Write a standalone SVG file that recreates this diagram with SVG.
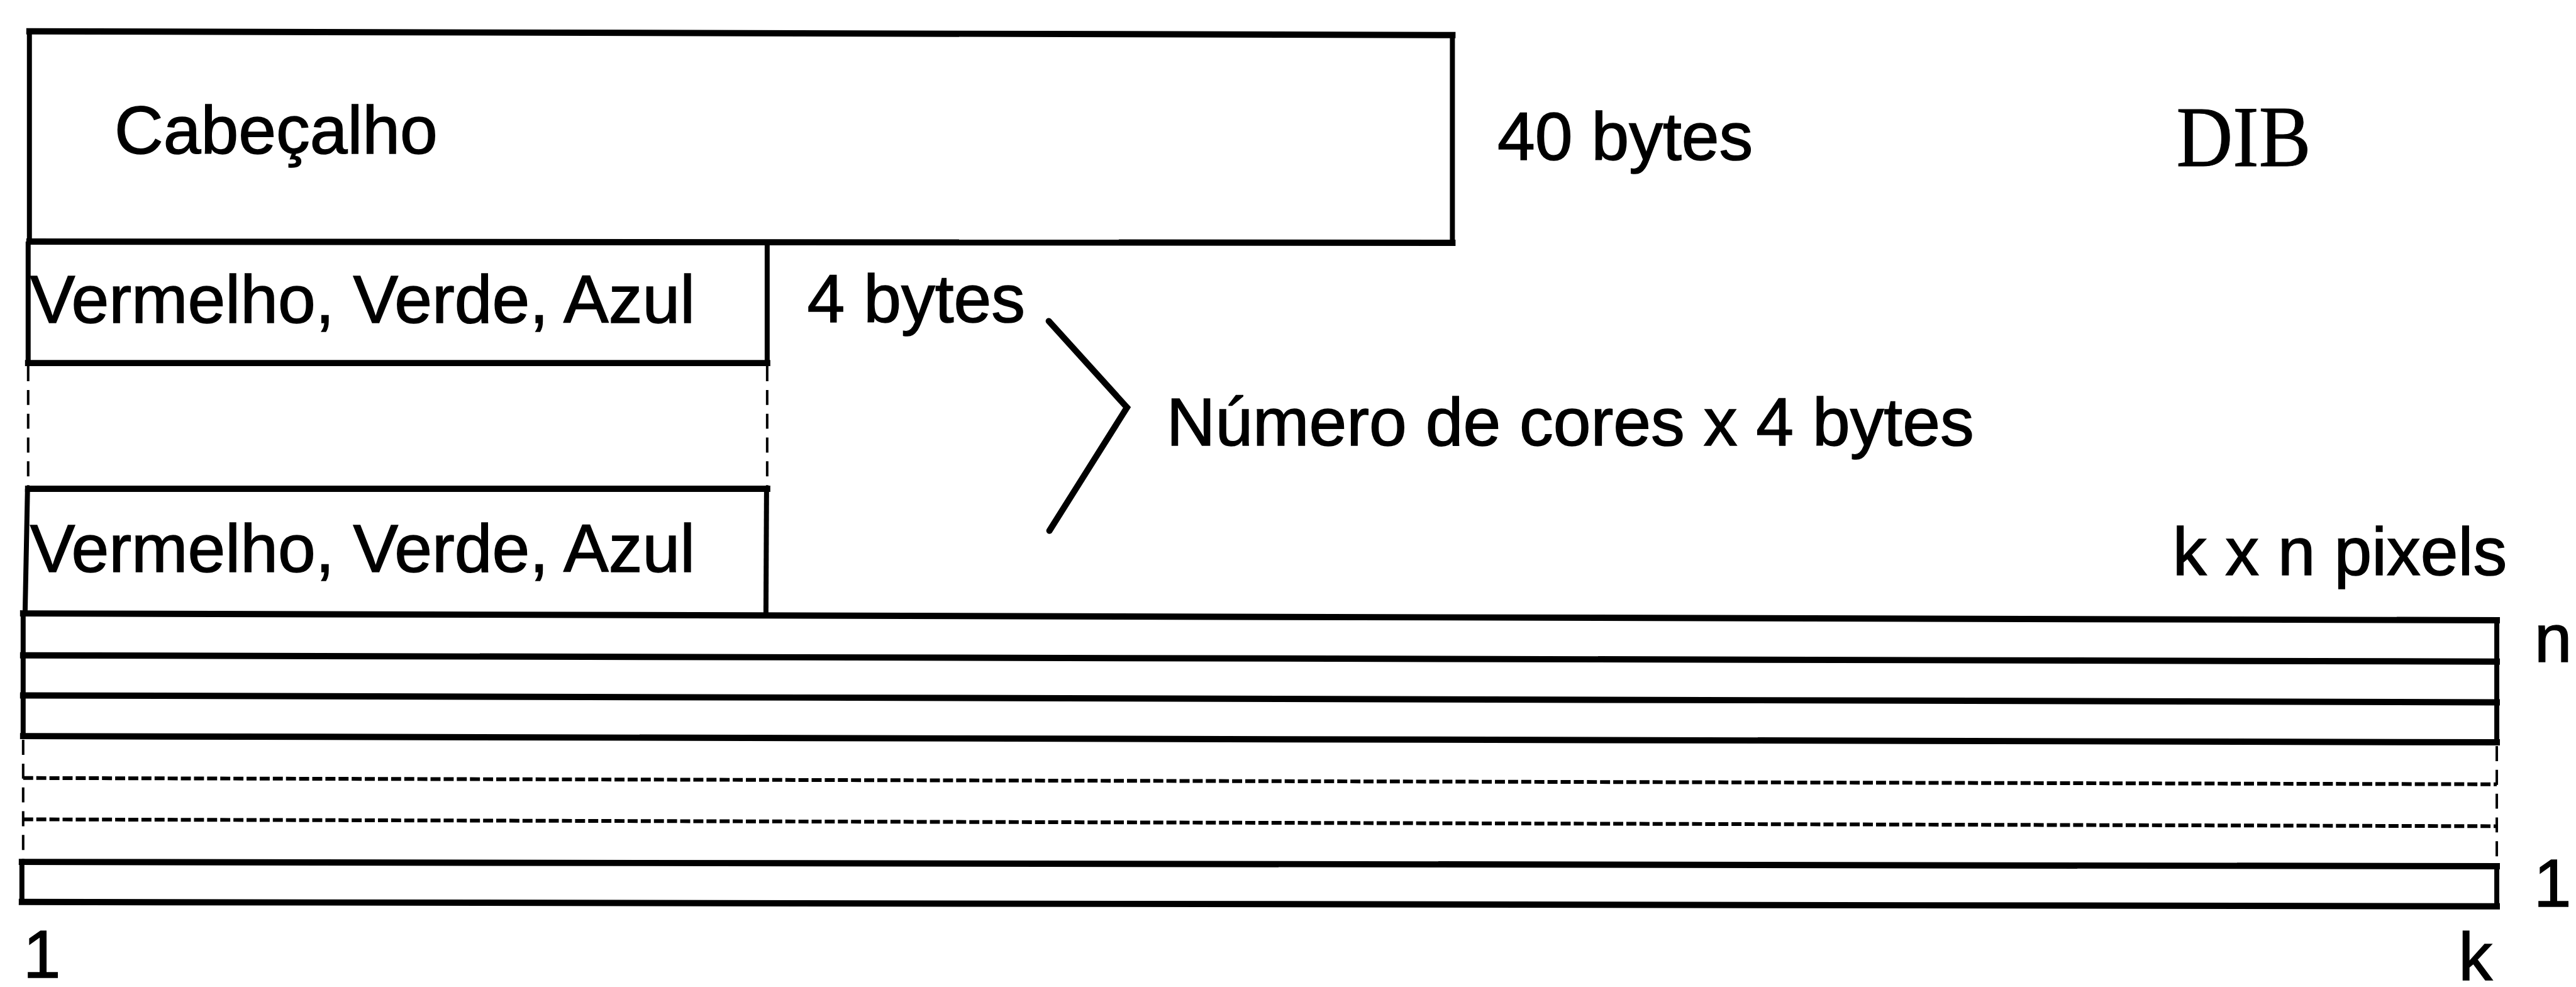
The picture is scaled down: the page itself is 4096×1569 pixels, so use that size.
<svg xmlns="http://www.w3.org/2000/svg" width="4096" height="1569" viewBox="0 0 4096 1569">
<style>
.h{stroke:#000;stroke-width:10;fill:none;stroke-linecap:square}
.v{stroke:#000;stroke-width:8;fill:none}
.d{stroke:#000;stroke-width:6;fill:none;stroke-dasharray:16 5}
.dv{stroke:#000;stroke-width:4;fill:none;stroke-dasharray:24 14}
.t{font-family:"Liberation Sans",Arial,sans-serif;font-size:108px;fill:#000;stroke:#000;stroke-width:1.5}
.s{font-family:"Liberation Serif","Times New Roman",serif;font-size:138px;fill:#000;stroke:#000;stroke-width:1}
</style>
<rect width="4096" height="1569" fill="#fff"/>
<g transform="scale(0.995)">
<g id="header">
<line class="h" x1="47" y1="50" x2="2321" y2="56"/>
<line class="h" x1="47" y1="386" x2="2321" y2="388"/>
<line class="v" x1="47" y1="50" x2="47" y2="386"/>
<line class="v" x1="2321" y1="56" x2="2321" y2="388"/>
<text class="t" x="183" y="245">Cabeçalho</text>
</g>
<g id="size-header"><text class="t" x="2393" y="255">40 bytes</text></g>
<g id="title"><text class="s" x="3478" y="265" textLength="215" lengthAdjust="spacingAndGlyphs">DIB</text></g>
<g id="color1">
<line class="h" x1="45" y1="580" x2="1226" y2="580"/>
<line class="v" x1="45" y1="386" x2="45" y2="580"/>
<line class="v" x1="1226" y1="386" x2="1226" y2="580"/>
<text class="t" x="48" y="516">Vermelho, Verde, Azul</text>
</g>
<g id="color-gap">
<line class="dv" x1="45" y1="585" x2="45" y2="781"/>
<line class="dv" x1="1226" y1="585" x2="1226" y2="781"/>
</g>
<g id="color2">
<line class="h" x1="45" y1="781" x2="1226" y2="781"/>
<line class="v" x1="44" y1="781" x2="40" y2="982"/>
<line class="v" x1="1225" y1="781" x2="1224" y2="982"/>
<text class="t" x="48" y="914">Vermelho, Verde, Azul</text>
</g>
<g id="size-color"><text class="t" x="1290" y="515">4 bytes</text></g>
<g id="size-palette"><text class="t" x="1864" y="712">Número de cores x 4 bytes</text></g>
<g id="pixels">
<line class="h" x1="37" y1="980" x2="3990" y2="991"/>
<line class="h" x1="37" y1="1047" x2="3990" y2="1057"/>
<line class="h" x1="37" y1="1111" x2="3990" y2="1122"/>
<line class="h" x1="37" y1="1176" x2="3990" y2="1186"/>
<line class="d" x1="37" y1="1243" x2="3990" y2="1253"/>
<line class="d" x1="37" y1="1309" x2="3990" y2="1320"/>
<line class="h" x1="35" y1="1377" x2="3990" y2="1384"/>
<line class="h" x1="35" y1="1441" x2="3990" y2="1448"/>
<line class="v" x1="37" y1="980" x2="37" y2="1176"/>
<line class="dv" x1="37" y1="1182" x2="37" y2="1374"/>
<line class="v" x1="35" y1="1377" x2="35" y2="1441"/>
<line class="v" x1="3990" y1="991" x2="3990" y2="1186"/>
<line class="dv" x1="3990" y1="1192" x2="3990" y2="1382"/>
<line class="v" x1="3990" y1="1384" x2="3990" y2="1448"/>
<text class="t" x="3472" y="919">k x n pixels</text>
<text class="t" x="4050" y="1057">n</text>
<text class="t" x="4049" y="1448">1</text>
<text class="t" x="37" y="1562">1</text>
<text class="t" x="3929" y="1566">k</text>
</g>
<g id="connectors">
<polyline points="1676,513 1801,651 1677,848" fill="none" stroke="#000" stroke-width="10" stroke-linecap="round" stroke-linejoin="miter"/>
</g>
</g>
</svg>
